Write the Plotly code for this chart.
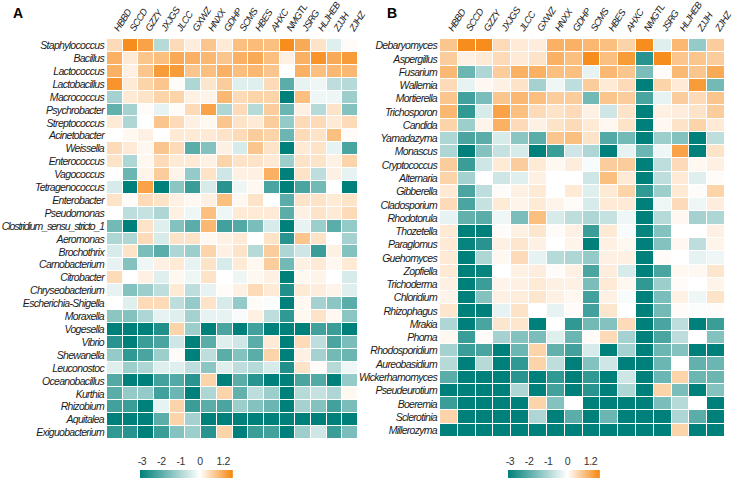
import numpy as np
import plotly.graph_objects as go

sites = ["HBBD", "SCCD", "GZZY", "JXJGS", "JLCC", "GXWZ", "HNXX", "GDHP",
         "SCMS", "HBES", "AHXC", "NMGTL", "JSRG", "HLJHEB", "ZJJH", "ZJHZ"]

bacteria = ["Staphylococcus", "Bacillus", "Lactococcus", "Lactobacillus", "Macrococcus",
            "Psychrobacter", "Streptococcus", "Acinetobacter", "Weissella", "Enterococcus",
            "Vagococcus", "Tetragenococcus", "Enterobacter", "Pseudomonas",
            "Clostridium_sensu_stricto_1", "Aeromonas", "Brochothrix", "Carnobacterium",
            "Citrobacter", "Chryseobacterium", "Escherichia-Shigella", "Moraxella",
            "Vogesella", "Vibrio", "Shewanella", "Leuconostoc", "Oceanobacillus",
            "Kurthia", "Rhizobium", "Aquitalea", "Exiguobacterium"]

bacteria_values = [
    [0.5, 1.6, 1.3, -0.9, 0.5, 0.25, 0.8, 0.3, 0.9, 0.95, 0.9, 1.6, 1.2, 0.4, -0.4, 0.05],
    [1.1, 0.3, 0.8, 0.9, 1.2, 1.1, 1.0, 0.8, 1.1, 1.2, 0.9, 0.2, 1.1, 1.5, 1.2, 1.4],
    [1.1, 0.2, 0.8, 1.4, 1.4, 0.8, 0.9, 1.1, 0.9, 1.0, 0.8, 0.0, 1.1, 0.9, 1.0, 1.0],
    [1.5, 0.3, 0.6, 0.8, 0.05, -1.0, 0.35, 0.7, -0.4, -0.4, 0.5, -2.0, -0.3, -0.2, -0.8, -0.9],
    [-1.1, 0.3, 0.4, 0.6, 0.6, 0.2, 0.15, 1.0, 0.5, 0.6, 0.6, -3.3, 0.9, -0.2, -0.2, -1.2],
    [-1.9, -1.1, 0.05, -0.3, 0.05, 0.5, 1.3, -1.0, 0.5, -0.9, 0.7, -1.8, 0.2, -0.9, 0.4, -1.5],
    [0.3, -1.0, 0.0, 0.8, 0.5, 0.2, 0.1, 0.8, 0.4, 0.3, 0.7, -1.3, 0.5, 0.5, 0.3, 0.5],
    [0.0, 0.1, 0.2, 0.0, 0.3, 0.3, 0.3, 0.4, 0.5, 0.7, 0.6, -1.8, 0.5, 0.4, 0.9, 0.05],
    [0.5, 0.3, 0.1, 0.8, 0.5, -2.0, -1.5, 0.2, -0.5, 0.8, 0.4, -3.2, 0.3, 0.4, -0.3, -2.2],
    [0.4, -1.0, 0.1, 0.5, 0.3, 0.3, 0.2, 0.6, 0.4, 0.4, 0.3, -1.2, 0.4, 0.4, 0.2, 0.6],
    [0.0, -1.8, 0.15, 0.7, 0.15, -1.3, 0.4, -0.6, 0.2, 0.2, 1.1, -3.3, 0.4, -0.8, 0.2, -0.3],
    [-0.5, -3.1, 1.3, -3.3, -1.4, -2.4, -0.5, -2.6, -0.2, 0.1, -2.2, -3.3, -2.2, -1.7, 0.0, -3.2],
    [0.4, 0.05, 0.5, 0.4, 0.2, 0.1, 0.2, 0.9, 0.1, 0.4, 0.0, -2.0, 0.4, 0.4, 0.3, 0.4],
    [0.0, -0.8, -0.7, -1.0, 0.2, -0.2, 0.9, -0.2, 0.3, 0.3, 0.3, -2.0, 0.2, 0.4, 0.3, 0.5],
    [-1.7, -3.2, 0.4, -0.4, -1.5, -2.0, 1.0, -2.3, -2.1, -1.6, -0.5, -3.3, -0.3, -1.2, -2.0, -1.3],
    [-1.0, -1.0, 0.5, -0.5, 0.4, 0.4, 0.1, 0.2, 0.3, 0.0, 0.4, -2.6, 0.8, 0.4, 0.0, -1.1],
    [-0.5, 0.4, -1.6, -2.0, -1.0, -1.2, 0.6, 0.2, 0.4, -0.9, 0.7, -1.0, -0.6, -2.4, 0.2, -1.5],
    [-0.3, -1.5, -0.2, 0.2, 0.3, -0.3, 0.4, -0.5, 0.3, 0.1, 0.7, -1.7, 0.2, 0.3, 0.1, 0.3],
    [0.5, 0.0, 0.2, -0.4, 0.1, -0.2, 0.4, 0.0, -0.2, 0.1, 0.2, -3.1, 0.1, 0.15, 0.0, -0.5],
    [-0.3, -1.5, -1.2, -0.8, 0.3, -0.8, -0.3, 0.05, 0.2, 0.5, 0.3, -2.7, 0.3, 0.25, 0.15, -0.4],
    [0.0, -0.4, 0.5, 0.5, -0.8, -1.3, 0.4, -0.5, -1.3, 0.05, -0.05, -3.2, 0.1, -1.1, -1.4, -2.0],
    [-1.4, -1.5, -1.0, -0.3, -0.4, -1.1, -0.3, -0.3, -0.1, 0.2, -0.8, -2.5, 0.1, 0.4, 0.1, -1.4],
    [-3.3, -3.3, -3.3, -2.7, 0.6, -1.2, -3.3, -2.2, -3.3, -2.3, -3.2, -3.3, -3.3, -2.3, -2.4, -3.3],
    [-2.6, -3.3, -2.4, -2.2, -0.6, -3.3, -2.0, -0.4, -0.6, -2.0, 0.3, -3.3, 0.5, -0.8, -2.2, -1.6],
    [-1.3, -2.5, -2.2, -1.2, 0.05, -3.1, -0.8, -2.0, -1.5, -2.0, 0.6, -3.3, 0.2, -1.1, -1.7, -1.8],
    [-0.4, -1.2, -1.0, -0.4, -0.4, -0.8, -1.4, -0.4, -0.8, -0.9, -0.5, -2.7, 0.4, 0.05, -0.9, -0.2],
    [-2.1, -3.3, -3.2, -2.3, -2.1, -2.6, 0.6, -3.3, -2.0, -2.6, -3.1, -3.2, -2.2, -2.1, -3.2, -1.3],
    [-2.0, -1.3, -1.3, -2.3, -1.8, -3.3, -1.0, 0.6, -1.9, -0.8, -1.2, -3.3, -0.9, -0.7, -1.0, 0.1],
    [-2.3, -2.4, -3.2, -0.3, 0.6, -2.4, -2.0, -2.2, -1.2, -1.5, -1.8, -3.3, -1.1, -1.5, -2.3, -1.6],
    [-3.3, -3.3, -3.3, -2.0, 0.6, -1.1, -3.3, -3.3, -3.3, -3.3, -3.3, -3.3, -3.3, -3.3, -3.3, -3.3],
    [-2.5, -2.6, -3.2, -2.4, -1.5, -1.2, -2.6, 0.6, -3.3, -2.4, -2.3, -3.3, -1.2, -0.6, -2.4, -1.6],
]

fungi = ["Debaryomyces", "Aspergillus", "Fusarium", "Wallemia", "Mortierella", "Trichosporon",
         "Candida", "Yamadazyma", "Monascus", "Cryptococcus", "Alternaria", "Gibberella",
         "Cladosporium", "Rhodotorula", "Thozetella", "Paraglomus", "Guehomyces", "Zopfiella",
         "Trichoderma", "Chloridium", "Rhizophagus", "Mrakia", "Phoma", "Rhodosporidium",
         "Aureobasidium", "Wickerhamomyces", "Pseudeurotium", "Boeremia", "Sclerotinia",
         "Millerozyma"]

fungi_values = [
    [0.8, 1.6, 1.6, 0.5, 0.3, 0.25, 1.1, 1.1, 1.0, 0.9, 0.6, 1.6, -0.4, 1.0, -1.3, 0.7],
    [0.7, 0.2, 0.3, 0.5, 0.3, 0.4, 1.1, 0.9, 1.6, 0.9, 1.4, -2.6, 1.6, 0.8, 0.8, 0.7],
    [1.0, -1.8, -1.0, 0.7, 1.1, 1.1, 0.9, 0.9, -0.3, 1.0, 0.8, -1.6, 0.05, 1.0, 0.8, 1.2],
    [0.5, -0.3, 0.1, 0.2, 0.4, -1.1, -0.2, -0.8, 0.7, 0.3, 0.5, -3.2, 0.6, 0.3, 1.4, -1.7],
    [0.8, -2.3, -1.6, 0.8, 1.0, 0.9, 0.7, 0.7, -1.7, 0.8, 0.7, -2.2, -0.3, 0.7, 0.5, 0.8],
    [1.0, -2.5, -0.5, 1.3, 0.9, 0.5, 0.4, 0.5, 0.2, -0.6, 0.4, -3.2, 0.2, 0.25, 0.4, 0.7],
    [0.6, -1.2, 0.15, 1.1, 0.5, 0.2, 0.4, 0.5, 0.3, 0.1, 0.4, -3.2, 0.1, 0.4, 0.6, 0.3],
    [-1.0, -2.2, -2.0, -0.5, -1.4, -2.0, 0.8, 0.9, 0.4, -2.1, -1.7, -3.2, -1.2, -1.5, -3.2, -0.8],
    [-1.0, -3.3, -1.5, -0.7, -0.5, -3.3, -2.4, -0.6, -1.0, -3.2, -0.3, -1.8, -0.2, 1.3, -3.2, 0.4],
    [0.7, -2.4, -0.6, 0.3, 0.7, 0.3, 0.1, 0.25, -0.1, 0.7, 0.7, -3.3, -0.8, 0.5, 0.1, 0.2],
    [0.6, -1.1, 0.0, -0.6, -0.4, 0.2, 0.0, 0.0, -0.6, 0.9, 0.3, -3.3, -0.8, 0.3, -0.4, 0.05],
    [0.3, -2.2, -0.8, 0.05, 0.2, 0.3, 0.0, 0.3, -0.4, 0.3, 0.6, -2.5, -1.2, 0.3, 0.05, 0.6],
    [0.5, -2.2, -0.7, 0.3, 0.15, 0.3, 0.15, 0.05, -0.5, 0.3, 0.3, -3.3, -0.2, 0.5, -0.2, 0.25],
    [-0.3, -1.9, -2.0, -0.2, -1.6, 0.9, -0.5, -0.8, -1.0, -0.7, -0.2, -3.3, -0.9, 0.1, -1.1, -1.0],
    [0.3, -3.3, -3.2, 0.05, 0.2, 0.35, 0.05, 0.2, -2.4, 0.3, -0.1, -3.0, -1.5, 0.0, 0.0, 0.2],
    [0.3, -3.0, -2.6, 0.2, 0.35, 0.2, 0.0, 0.15, -3.3, 0.2, 0.1, -3.2, -1.5, 0.1, -0.8, 0.15],
    [0.3, -3.3, -1.0, 0.1, 0.5, -0.3, -0.9, -1.0, -1.3, 0.2, 0.2, -3.3, 0.05, 0.0, -0.3, -0.2],
    [0.3, -3.3, -3.0, 0.0, 0.2, 0.25, 0.05, 0.2, -2.2, 0.25, -0.5, -3.2, -2.2, 0.1, 0.1, 0.35],
    [0.2, -3.3, -2.4, 0.15, 0.2, 0.3, 0.2, 0.2, -1.6, 0.3, 0.1, -2.5, -1.2, 0.05, 0.0, 0.15],
    [0.15, -3.3, -1.5, 0.2, 0.25, 0.35, 0.2, 0.1, -2.3, 0.2, -0.1, -3.3, -1.6, 0.2, -0.2, 0.4],
    [0.35, -3.3, -3.2, -0.3, 0.4, 0.0, -0.3, 0.05, -2.3, 0.35, 0.0, -3.3, -1.7, 0.05, -0.05, 0.05],
    [-1.0, -3.3, -2.2, 0.35, 0.35, -3.3, 0.0, -2.5, -1.7, -1.5, 0.5, -3.3, -2.2, -0.8, -3.3, -2.4],
    [0.1, -2.4, 0.05, -1.1, -1.5, -1.6, -0.4, -1.8, 0.05, 0.5, -1.1, -3.1, -2.2, -0.8, 0.0, -1.5],
    [-1.1, -2.4, -2.2, -3.2, -1.8, 0.6, -1.9, -2.3, -0.5, -3.3, -1.1, -3.3, -1.8, -1.5, -3.3, -3.2],
    [-0.9, -3.3, -0.9, -3.2, -2.5, 0.6, -0.8, -3.3, -1.5, -0.6, -3.3, -3.2, -1.8, 0.0, -1.9, -1.8],
    [-2.0, -3.3, -3.3, -3.3, -2.6, -3.3, -2.5, -3.3, -2.5, -3.3, -0.6, -3.3, -1.8, 0.6, -1.8, -1.8],
    [-3.3, -3.3, -3.3, -3.3, -1.0, -3.3, -2.3, -3.3, -2.6, -3.3, -1.0, -3.3, 0.6, -1.6, -3.3, -1.5],
    [-2.4, -3.3, -3.3, -3.3, -3.3, 0.6, -1.5, 0.0, -3.3, -3.3, -3.3, -3.3, -1.6, -0.9, 0.0, -3.3],
    [0.6, -3.3, -3.3, -3.3, -3.3, -1.0, -3.3, -2.0, -3.3, -1.8, -3.3, -3.3, -3.3, -1.0, -2.0, -3.3],
    [-3.3, -3.3, -3.3, -3.3, -3.3, -3.3, -3.3, -3.3, -3.3, -3.3, -3.3, -3.3, -3.3, 0.6, -3.3, -3.3],
]

legend_ticks = [-3, -2, -1, 0, 1.2]
legend_text = ["-3", "-2", "-1", "0", "1.2"]

ZMIN, ZMAX = -3.1, 1.7
mid = (0 - ZMIN) / (ZMAX - ZMIN)
cscale = [[0.0, "#00807a"], [mid, "#ffffff"], [1.0, "#f7860f"]]

W, H = 735, 493
def px(x):
    return x / W
def py(y):
    return 1 - y / H

FONT = "Liberation Sans, Arial, sans-serif"
lab_font = dict(family=FONT, size=10.5, color="#1a1a1a", style="italic")
col_font = dict(family=FONT, size=9.5, color="#1a1a1a", style="italic")


def narrow(label, spacing="-0.7px"):
    # condensed look of the original labels (narrow sans face)
    return '<span style="letter-spacing:%s">%s</span>' % (spacing, label)


bact_text = [narrow(b, "-1.1px") if len(b) > 22 else narrow(b) for b in bacteria]
fungi_text = [narrow(f) for f in fungi]
site_text = [narrow(s, "-0.7px") for s in sites]

fig = go.Figure()

fig.add_trace(go.Heatmap(z=bacteria_values, x=sites, y=bacteria, zmin=ZMIN, zmax=ZMAX,
                         colorscale=cscale, showscale=False, xgap=1, ygap=1,
                         xaxis="x", yaxis="y"))
fig.add_trace(go.Heatmap(z=fungi_values, x=sites, y=fungi, zmin=ZMIN, zmax=ZMAX,
                         colorscale=cscale, showscale=False, xgap=1, ygap=1,
                         xaxis="x2", yaxis="y2"))

grad = np.linspace(ZMIN, ZMAX, 241)
for xa, ya in (("x3", "y3"), ("x4", "y4")):
    fig.add_trace(go.Heatmap(z=[grad], x=grad, y=[0], zmin=ZMIN, zmax=ZMAX,
                             colorscale=cscale, showscale=False, hoverinfo="skip",
                             xaxis=xa, yaxis=ya))

common_x = dict(side="top", tickangle=-57, ticks="", showgrid=False, zeroline=False,
                showline=False, tickfont=col_font, ticklabelstandoff=2,
                automargin=False, tickmode="array", tickvals=sites, ticktext=site_text)
common_y = dict(autorange="reversed", ticks="", showgrid=False, zeroline=False,
                showline=False, tickfont=lab_font, ticklabelstandoff=2, automargin=False)
cb_x = dict(side="top", range=[ZMIN, ZMAX], tickvals=legend_ticks,
            ticktext=[narrow(t, "-0.4px") for t in legend_text],
            ticks="", showgrid=False, zeroline=False, showline=False, automargin=False,
            tickfont=dict(family=FONT, size=10.5, color="#333333"), ticklabelstandoff=2)
cb_y = dict(showticklabels=False, ticks="", showgrid=False, zeroline=False, showline=False,
            automargin=False)

fig.update_layout(
    width=W, height=H,
    margin=dict(l=0, r=0, t=0, b=0),
    paper_bgcolor="white", plot_bgcolor="white",
    xaxis=dict(domain=[px(107), px(358)], anchor="y", **common_x),
    yaxis=dict(domain=[py(439), py(39)], anchor="x", tickmode="array", tickvals=bacteria,
               ticktext=bact_text, **common_y),
    xaxis2=dict(domain=[px(440), px(725)], anchor="y2", **common_x),
    yaxis2=dict(domain=[py(437), py(39)], anchor="x2", tickmode="array", tickvals=fungi,
                ticktext=fungi_text, **common_y),
    xaxis3=dict(domain=[px(140), px(233)], anchor="y3", **cb_x),
    yaxis3=dict(domain=[py(478), py(470)], anchor="x3", **cb_y),
    xaxis4=dict(domain=[px(508), px(600)], anchor="y4", **cb_x),
    yaxis4=dict(domain=[py(478), py(470)], anchor="x4", **cb_y),
    annotations=[
        dict(text="<b>A</b>", x=px(11), y=py(3), xref="paper", yref="paper",
             xanchor="left", yanchor="top", showarrow=False,
             font=dict(family=FONT, size=14, color="black")),
        dict(text="<b>B</b>", x=px(385), y=py(3), xref="paper", yref="paper",
             xanchor="left", yanchor="top", showarrow=False,
             font=dict(family=FONT, size=14, color="black")),
    ],
)

fig.write_html("out.html", config={"displayModeBar": False},
               post_script="document.body.style.margin='0';document.body.style.padding='0';")
